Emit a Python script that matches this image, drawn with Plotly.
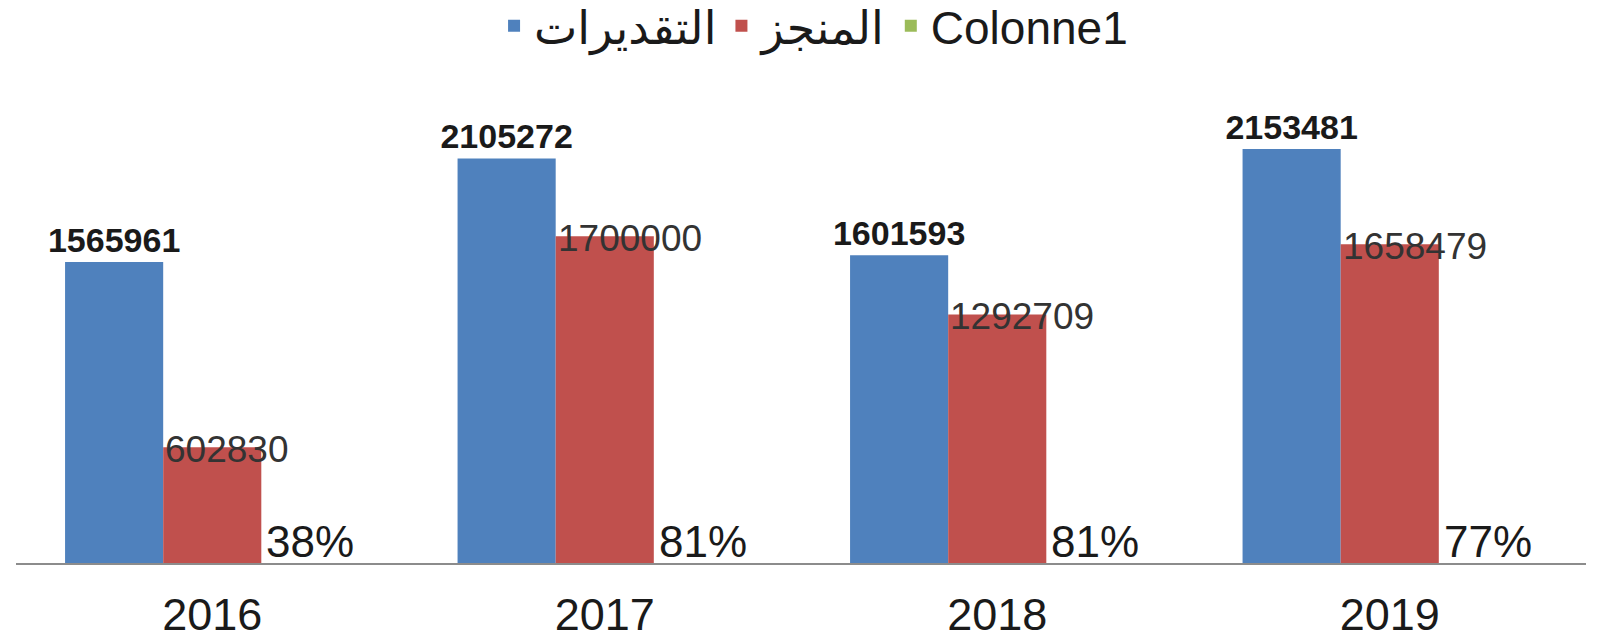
import plotly.graph_objects as go

years = ["2016", "2017", "2018", "2019"]
estimates = [1565961, 2105272, 1601593, 2153481]      # التقديرات
achieved = [602830, 1700000, 1292709, 1658479]        # المنجز
colonne1 = [0.38, 0.81, 0.81, 0.77]                    # Colonne1 (ratio)

idx = list(range(len(years)))
FONT = "Liberation Sans, Arial, DejaVu Sans, sans-serif"

fig = go.Figure()
fig.add_trace(go.Bar(
    x=idx, y=estimates, name="التقديرات",
    marker=dict(color="#4F81BD", line=dict(width=0)),
    text=[str(v) for v in estimates], textposition="outside",
    textfont=dict(family=FONT, size=34, color="#1a1a1a", weight="bold"),
    constraintext="none", cliponaxis=False,
))
fig.add_trace(go.Bar(
    x=idx, y=achieved, name="المنجز",
    marker=dict(color="#C0504D", line=dict(width=0)),
))
fig.add_trace(go.Bar(
    x=idx, y=colonne1, name="Colonne1",
    marker=dict(color="#9BBB59", line=dict(width=0)),
))

# labels for the achieved series, left-aligned on the bar's left edge
for i, v in zip(idx, achieved):
    fig.add_annotation(
        x=i - 0.125, y=v, xref="x", yref="y", text=str(v),
        xanchor="left", yanchor="middle", showarrow=False, yshift=-2,
        font=dict(family=FONT, size=37, color="#333333"),
    )

# percentage labels for Colonne1, centred on its (flat) bar
for i, v in zip(idx, colonne1):
    fig.add_annotation(
        x=i + 0.25, y=v, xref="x", yref="y", text=f"{round(v * 100)}%",
        xanchor="center", yanchor="bottom", showarrow=False, yshift=-5,
        font=dict(family=FONT, size=44, color="#1a1a1a"),
    )

fig.update_layout(
    width=1598, height=639,
    margin=dict(l=16, r=12, t=100, b=76, autoexpand=False),
    paper_bgcolor="white", plot_bgcolor="white",
    barmode="group", bargap=0.25, bargroupgap=0,
    font=dict(family=FONT, color="#1a1a1a"),
    showlegend=True,
    legend=dict(
        orientation="h", x=0.508, xanchor="center", y=1.16, yanchor="middle",
        font=dict(family=FONT, size=46, color="#1a1a1a"),
        itemwidth=30, tracegroupgap=0, bgcolor="rgba(0,0,0,0)",
    ),
)
fig.update_xaxes(
    tickmode="array", tickvals=idx, ticktext=years, range=[-0.5, 3.5],
    showline=True, linecolor="#8c8c8c", linewidth=2,
    ticks="", showgrid=False, zeroline=False,
    tickfont=dict(family=FONT, size=45, color="#1a1a1a"),
    ticklabelstandoff=11, automargin=False,
)
fig.update_yaxes(
    range=[0, 2409000], visible=False, showgrid=False, zeroline=False,
    automargin=False,
)

fig.write_html(
    "out.html",
    config={"displayModeBar": False},
    post_script="document.body.style.margin='0';document.body.style.overflow='hidden';",
)
